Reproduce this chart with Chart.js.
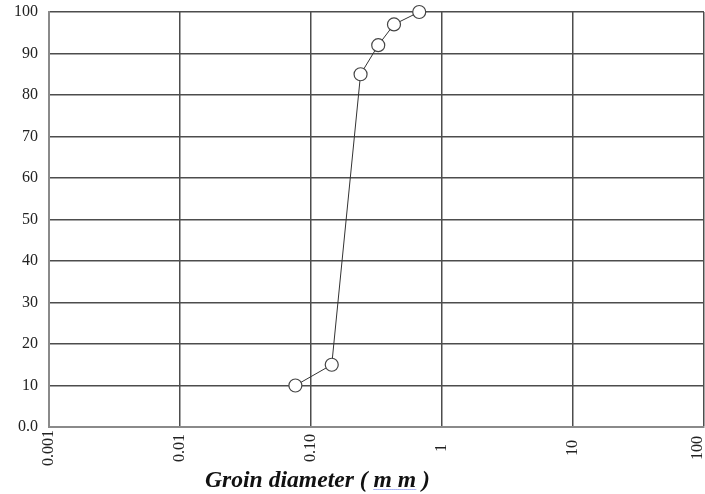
<!DOCTYPE html>
<html><head><meta charset="utf-8">
<script src="https://cdn.jsdelivr.net/npm/chart.js@4/dist/chart.umd.min.js"></script>
<style>html,body{margin:0;padding:0;background:#fff;overflow:hidden}#wrap{width:705px;height:494px}</style>
</head><body><div id="wrap"><canvas id="c" width="705" height="494"></canvas></div>
<script>
// ---- data ----
const grainDiameter = [0.076, 0.144, 0.239, 0.326, 0.43, 0.67];
const percentPassing = [10, 15, 85, 92, 97, 100];
const xTickValues = [0.001, 0.01, 0.1, 1, 10, 100];
const xTickLabels = ['0.001', '0.01', '0.10', '1', '10', '100'];
const yTickValues = [0, 10, 20, 30, 40, 50, 60, 70, 80, 90, 100];
const yTickLabels = ['0.0', '10', '20', '30', '40', '50', '60', '70', '80', '90', '100'];
const xTitle = 'Groin diameter ( m m )';

const points = grainDiameter.map((d, i) => ({ x: d, y: percentPassing[i] }));

const zeroPad = s => { s.paddingTop = 0; s.paddingBottom = 0; s.paddingLeft = 0; s.paddingRight = 0; };

const xLabelsPlugin = {
  id: 'xLabels',
  afterDraw(chart) {
    const ctx = chart.ctx, xs = chart.scales.x, ca = chart.chartArea;
    ctx.save();
    ctx.font = '16px "Liberation Serif", "Times New Roman", serif';
    ctx.fillStyle = '#222';
    ctx.textAlign = 'center';
    ctx.textBaseline = 'middle';
    xTickValues.forEach((v, i) => {
      let px = xs.getPixelForValue(v);
      px = Math.min(Math.max(px, 8), chart.width - 7);
      ctx.save();
      ctx.translate(px, ca.bottom + 21);
      ctx.rotate(-Math.PI / 2);
      ctx.fillText(xTickLabels[i], 0, 0);
      ctx.restore();
    });
    // axis title
    let size = 19;
    ctx.font = 'bold italic ' + size + 'px "Liberation Serif", "Times New Roman", serif';
    const w = ctx.measureText(xTitle).width;
    size = size * 225 / w;
    ctx.font = 'bold italic ' + size.toFixed(2) + 'px "Liberation Serif", "Times New Roman", serif';
    ctx.textAlign = 'left';
    ctx.textBaseline = 'alphabetic';
    ctx.fillStyle = '#111';
    const tx = 205, ty = 487;
    ctx.fillText(xTitle, tx, ty);
    // spell-check style dotted underline under "m m"
    const pre = xTitle.indexOf('m m');
    const x0 = tx + ctx.measureText(xTitle.slice(0, pre)).width;
    const x1 = tx + ctx.measureText(xTitle.slice(0, pre + 3)).width;
    ctx.strokeStyle = '#5b6ee8';
    ctx.lineWidth = 1;
    ctx.setLineDash([1, 1]);
    ctx.beginPath();
    ctx.moveTo(x0, ty + 2.5);
    ctx.lineTo(x1, ty + 2.5);
    ctx.stroke();
    ctx.restore();
  }
};

new Chart(document.getElementById('c'), {
  type: 'scatter',
  data: {
    datasets: [{
      data: points,
      showLine: true,
      borderColor: '#333',
      borderWidth: 1,
      pointRadius: 6.5,
      pointHoverRadius: 6.5,
      pointBackgroundColor: '#fff',
      pointBorderColor: '#444',
      pointBorderWidth: 1.2,
      clip: false
    }]
  },
  options: {
    responsive: false,
    devicePixelRatio: 1,
    animation: false,
    events: [],
    layout: { autoPadding: false, padding: { top: 12, right: 1, bottom: 67, left: 0 } },
    plugins: { legend: { display: false }, tooltip: { enabled: false } },
    scales: {
      x: {
        type: 'logarithmic',
        min: 0.001,
        max: 100,
        afterBuildTicks: s => { s.ticks = xTickValues.map(v => ({ value: v })); },
        afterFit: zeroPad,
        ticks: { display: false },
        grid: { color: '#4d4d4d', lineWidth: 1.5, drawTicks: false },
        border: { display: true, color: '#8a8a8a', width: 2 }
      },
      y: {
        type: 'linear',
        min: 0,
        max: 100,
        afterBuildTicks: s => { s.ticks = yTickValues.map(v => ({ value: v })); },
        afterFit: s => { s.width = 49; zeroPad(s); },
        ticks: {
          callback: (v, i) => yTickLabels[i],
          font: { family: '"Liberation Serif", "Times New Roman", serif', size: 16 },
          color: '#222',
          padding: 11
        },
        grid: { color: '#4d4d4d', lineWidth: 1.5, drawTicks: false },
        border: { display: true, color: '#8a8a8a', width: 2 }
      }
    }
  },
  plugins: [xLabelsPlugin]
});
</script>
</body></html>
